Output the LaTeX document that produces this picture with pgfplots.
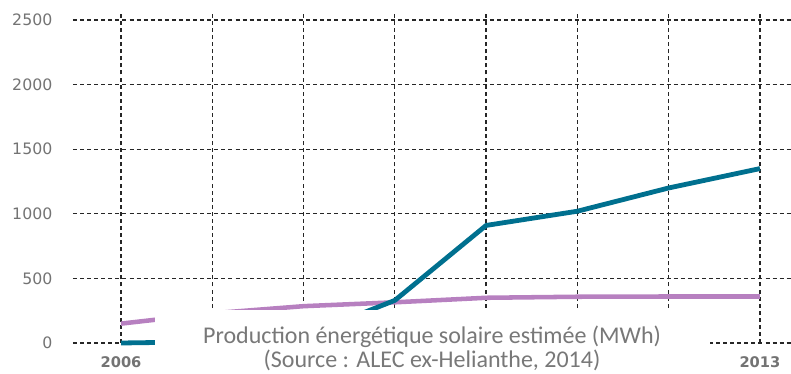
\documentclass[border=0pt]{standalone}
\usepackage{pgfplots}
\pgfplotsset{compat=1.18}
\usepackage{fontspec}
\setmainfont{Carlito}
\newfontfamily\tickfont{DejaVu Sans}
\definecolor{seriesA}{RGB}{0,112,143}
\definecolor{seriesB}{RGB}{183,128,192}
\definecolor{txtgray}{RGB}{120,120,120}
\definecolor{tickgray}{RGB}{115,115,115}
\begin{document}
\begin{tikzpicture}
\begin{axis}[
  at={(0,0)}, anchor=south west,
  scale only axis,
  width=538.5pt, height=248.25pt,
  xmin=2005.474, xmax=2013.34,
  ymin=0, ymax=2562,
  xtick={2006,...,2013},
  xticklabels={2006,,,,,,,2013},
  ytick={0,500,...,2500},
  axis line style={draw=none},
  major tick length=0pt,
  grid=major,
  major grid style={black!85, line width=0.9pt, dash pattern=on 3pt off 2.3pt},
  /pgf/number format/assume math mode=true,
  /pgf/number format/1000 sep={},
  yticklabel style={font=\tickfont\fontsize{11.8}{13}\selectfont, text=tickgray, anchor=east, xshift=-12pt},
  xticklabel style={font=\tickfont\bfseries\fontsize{11}{12}\selectfont, text=tickgray, yshift=-7pt},
  clip=false,
]
\addplot[seriesB, line width=3.4pt, line join=round] coordinates {
  (2006,150) (2007,230) (2008,285) (2009,315) (2010,350) (2011,358) (2012,360) (2013,360)
};
\addplot[seriesA, line width=3.6pt, line join=round] coordinates {
  (2006,0) (2007,10) (2008,50) (2009,330) (2010,910) (2011,1020) (2012,1200) (2013,1350)
};
\end{axis}
\fill[white] (61.5pt,-40pt) rectangle (477.75pt,24.75pt);
\node[text=txtgray, font=\fontsize{18}{21}\selectfont] at (269.25pt,4.5pt) {Production énergétique solaire estimée (MWh)};
\node[text=txtgray, font=\fontsize{18}{21}\selectfont] at (269.25pt,-13.2pt) {(Source : ALEC ex-Helianthe, 2014)};
\pgfresetboundingbox
\path[use as bounding box] (-54.75pt,-23.25pt) rectangle (538.5pt,257.25pt);
\end{tikzpicture}
\end{document}
